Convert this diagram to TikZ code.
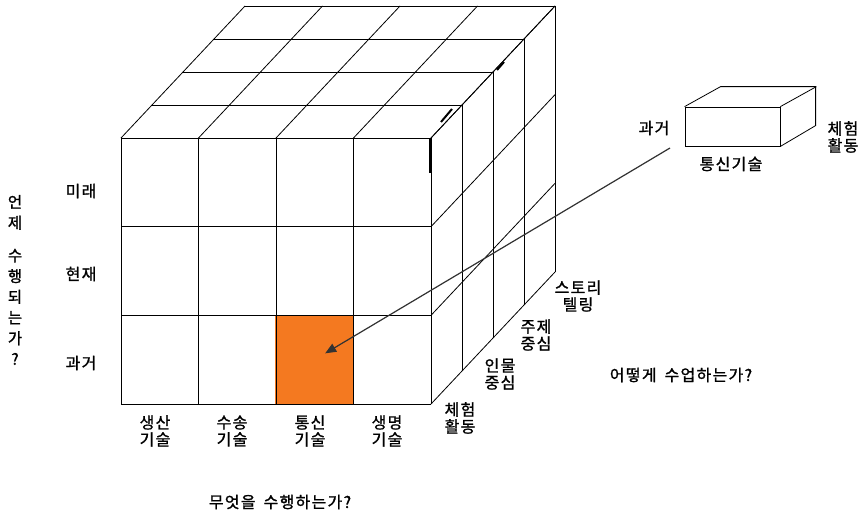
\documentclass[tikz,border=0pt]{standalone}
\usepackage{fontspec}
\usepackage{tikz}
\usetikzlibrary{arrows.meta,positioning}
\newfontfamily\kr[LetterSpace=8,FakeBold=1.2]{Noto Sans CJK KR}
\definecolor{korange}{HTML}{F47920}
\definecolor{kgray}{HTML}{333333}
\tikzset{
  grid/.style={line width=0.8pt,draw=black},
  thk/.style={line width=2pt,draw=black},
  hl/.style={fill=korange,draw=none,inner sep=0pt,minimum width=78pt,minimum height=88pt},
  sbox/.style={draw=black,line width=0.8pt,inner sep=0pt,minimum width=95pt,minimum height=39pt},
  lbl/.style={font=\kr\fontsize{16}{17}\selectfont,align=center,inner sep=0pt},
  vlbl/.style={font=\kr\fontsize{15.5}{20.7}\selectfont,align=center,inner sep=0pt},
  parr/.style={-{Triangle[length=11pt,width=9pt]},line width=1.2pt,draw=kgray,fill=black},
}
\newcommand{\wsp}{\hspace{8pt}}
\begin{document}
\begin{tikzpicture}[x=1pt,y=-1pt]
  \useasboundingbox (0,0) rectangle (862,514);
  % highlighted cell
  \node[hl] (cell) at (314,360) {};
  % front face
  \foreach \i in {0,...,4} \draw[grid] (121+77.5*\i,138) -- (121+77.5*\i,404);
  \foreach \j in {0,...,3} \draw[grid] (121,138+88.67*\j) -- (431,138+88.67*\j);
  % top face
  \foreach \k in {1,...,4} \draw[grid] (121+31*\k,138-33*\k) -- (431+31*\k,138-33*\k);
  \foreach \i in {0,...,4} \draw[grid] (121+77.5*\i,138) -- ++(124,-132);
  % right face
  \foreach \k in {1,...,4} \draw[grid] (431+31*\k,138-33*\k) -- (431+31*\k,404-33*\k);
  \foreach \j in {0,...,3} \draw[grid] (431,138+88.67*\j) -- ++(124,-132);
  \draw[thk] (430,138) -- (430,173);
  \draw[thk] (441,122) -- (452,109);
  \draw[thk] (497,70) -- (504,62);
  % small box
  \node[sbox] (box) at (732.5,126.5) {};
  \draw[grid] (box.north west) -- ++(36,-20) -- ++(95,0) -- ++(0,39) -- (box.south east);
  \draw[grid] (box.north east) -- ++(36,-20);
  \node[lbl] (bpast) at (654,128) {과거};
  \node[lbl] (bexp) at (843,137) {체험\\활동};
  \node[lbl] (bcom) at (731,164) {통신기술};
  \coordinate (src) at (670,148);
  \draw[parr,shorten >=13pt] (src) -- (cell.center);
  % time axis
  \node[lbl] (tfut) at (81,191) {미래};
  \node[lbl] (tnow) at (81,274) {현재};
  \node[lbl] (tpast) at (81,363) {과거};
  \node[vlbl] (when) at (15,280) {언\\제\\[12pt]수\\행\\되\\는\\가\\?};
  % content axis
  \node[lbl] (cprod) at (155,431) {생산\\기술};
  \node[lbl] (ctrans) at (232,431) {수송\\기술};
  \node[lbl] (ccom) at (310,431) {통신\\기술};
  \node[lbl] (cbio) at (387,431) {생명\\기술};
  \node[lbl] (what) at (280,502) {무엇을\wsp 수행하는가?};
  % method axis
  \node[lbl] (mexp) at (460,418) {체험\\활동};
  \node[lbl] (mper) at (500,374) {인물\\중심};
  \node[lbl] (mtop) at (536,335) {주제\\중심};
  \node[lbl] (mstory) at (578,296) {스토리\\텔링};
  \node[lbl] (how) at (681,375) {어떻게\wsp 수업하는가?};
\end{tikzpicture}
\end{document}
